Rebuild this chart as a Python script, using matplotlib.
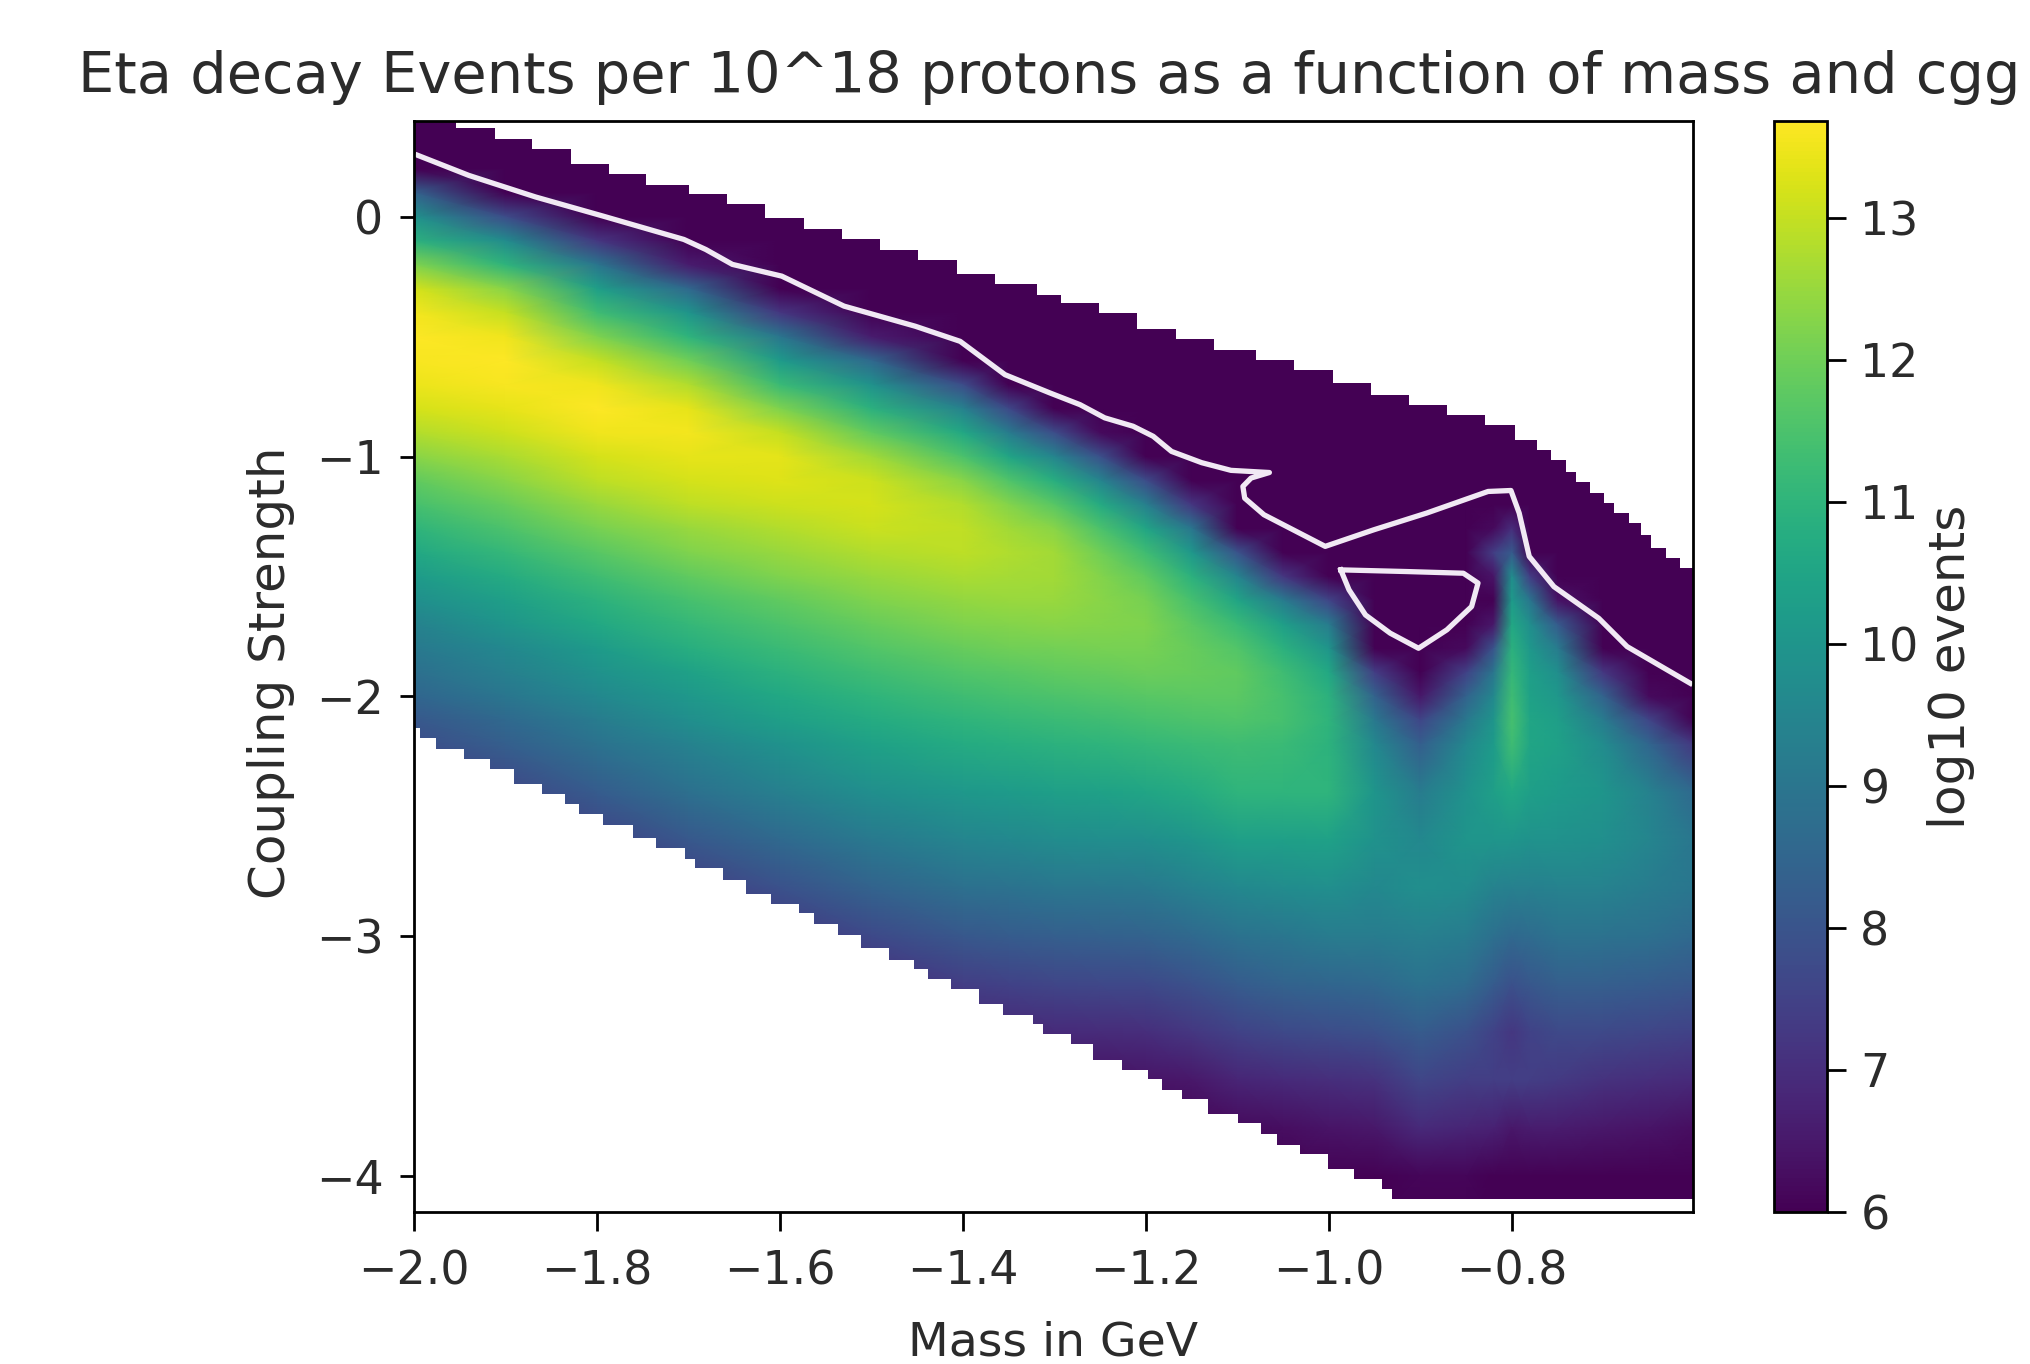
import numpy as np
import matplotlib
matplotlib.use("Agg")
import matplotlib.pyplot as plt
from matplotlib.patches import Polygon

# grid nodes (mass, coupling)
mass_nodes = [-2.0, -1.9, -1.8, -1.7, -1.6, -1.5, -1.4, -1.35, -1.3, -1.25, -1.2, -1.15, -1.1, -1.05, -1.0,
              -0.95, -0.9, -0.85, -0.82, -0.8, -0.78, -0.75, -0.7, -0.65, -0.6]
coupling_nodes = [0.4, 0.3, 0.2, 0.1, 0.0, -0.1, -0.2, -0.3, -0.4, -0.5, -0.6, -0.7, -0.8, -0.9,
                  -1.0, -1.1, -1.2, -1.3, -1.4, -1.5, -1.6, -1.7, -1.8, -1.9, -2.0, -2.1, -2.2,
                  -2.4, -2.6, -2.8, -3.0, -3.2, -3.4, -3.6, -3.8, -4.0, -4.2]

# log10 events, one list per mass node, top to bottom
log_events = [
    [6, 6, 6, 8.4, 9.9, 10.9, 12.2, 13.2, 13.55, 13.65, 13.6, 13.45, 13.2, 12.8,
     12.3, 11.8, 11.4, 11, 10.6, 10.2, 9.8, 9.4, 9.1, 8.8, 8.5, 8.1, 7.8,
     7.2, 6.6, 6, 6, 6, 6, 6, 6, 6, 6],
    [6, 6, 6, 6, 7.8, 9.7, 11, 12.3, 13, 13.5, 13.65, 13.6, 13.4, 13.1,
     12.7, 12.3, 11.9, 11.5, 11.1, 10.7, 10.3, 10, 9.6, 9.3, 9, 8.6, 8.3,
     7.6, 6.9, 6.3, 6, 6, 6, 6, 6, 6, 6],
    [6, 6, 6, 6, 6, 7.2, 9, 10.3, 11.3, 12.2, 13, 13.5, 13.65, 13.5,
     13.2, 12.9, 12.5, 12.1, 11.7, 11.3, 10.9, 10.6, 10.2, 9.9, 9.6, 9.2, 8.9,
     8.2, 7.5, 6.8, 6.2, 6, 6, 6, 6, 6, 6],
    [6, 6, 6, 6, 6, 6, 6.6, 8.6, 10, 11, 12, 12.8, 13.4, 13.55,
     13.4, 13.2, 12.9, 12.5, 12.2, 11.8, 11.4, 11.1, 10.8, 10.4, 10.1, 9.8, 9.4,
     8.8, 8.1, 7.4, 6.7, 6.1, 6, 6, 6, 6, 6],
    [6, 6, 6, 6, 6, 6, 6, 6, 7.2, 9, 10.2, 11.2, 12.2, 13,
     13.35, 13.3, 13.1, 12.8, 12.5, 12.2, 11.8, 11.5, 11.2, 10.9, 10.6, 10.3, 9.9,
     9.3, 8.6, 7.9, 7.2, 6.6, 6, 6, 6, 6, 6],
    [6, 6, 6, 6, 6, 6, 6, 6, 6, 6.6, 8.6, 9.9, 10.9, 11.8,
     12.6, 13.1, 13.2, 13.05, 12.8, 12.5, 12.2, 11.9, 11.6, 11.3, 11, 10.7, 10.4,
     9.8, 9.1, 8.4, 7.7, 7, 6.4, 6, 6, 6, 6],
    [6, 6, 6, 6, 6, 6, 6, 6, 6, 6, 6, 7.8, 9.4, 10.6,
     11.5, 12.3, 12.8, 12.95, 12.9, 12.7, 12.45, 12.2, 11.9, 11.6, 11.3, 11, 10.7,
     10.1, 9.5, 8.8, 8.1, 7.4, 6.8, 6.2, 6, 6, 6],
    [6, 6, 6, 6, 6, 6, 6, 6, 6, 6, 6, 6, 7.7, 9.2,
     10.5, 11.55, 12.25, 12.6, 12.75, 12.65, 12.5, 12.25, 12, 11.7, 11.4, 11.1, 10.8,
     10.2, 9.6, 8.9, 8.2, 7.5, 6.85, 6.25, 6, 6, 6],
    [6, 6, 6, 6, 6, 6, 6, 6, 6, 6, 6, 6, 6, 7.8,
     9.5, 10.8, 11.7, 12.3, 12.6, 12.6, 12.5, 12.3, 12.05, 11.8, 11.5, 11.2, 10.9,
     10.3, 9.7, 9, 8.3, 7.6, 6.9, 6.3, 6, 6, 6],
    [6, 6, 6, 6, 6, 6, 6, 6, 6, 6, 6, 6, 6, 6.2,
     7.9, 9.5, 10.7, 11.5, 12, 12.25, 12.3, 12.25, 12.1, 11.85, 11.6, 11.3, 11,
     10.4, 9.75, 9.05, 8.35, 7.65, 6.95, 6.35, 6, 6, 6],
    [6] * 14 + [6, 7.8, 9.3, 10.5, 11.3, 11.8, 12.1, 12.2, 12.1, 11.95, 11.7, 11.4, 11.1,
                10.5, 9.8, 9.1, 8.4, 7.7, 7, 6.4, 6, 6, 6],
    [6] * 14 + [6, 6, 7.2, 9, 10.1, 10.9, 11.4, 11.75, 11.9, 11.9, 11.75, 11.5, 11.2,
                10.7, 10, 9.35, 8.6, 7.9, 7.2, 6.5, 6.1, 6, 6],
    [6] * 14 + [6, 6, 6, 6, 8, 9.5, 10.5, 11.2, 11.6, 11.8, 11.75, 11.55, 11.3,
                11, 10.3, 9.6, 8.9, 8.2, 7.5, 6.8, 6.2, 6, 6],
    [6] * 14 + [6, 6, 6, 6, 6, 7.2, 9.2, 10.3, 10.9, 11.3, 11.4, 11.4, 11.2,
                11, 10.3, 9.7, 9, 8.4, 7.7, 6.9, 6.3, 6, 6],
    [6] * 14 + [6, 6, 6, 6, 6, 6, 7.6, 9.2, 10, 10.6, 10.9, 11, 10.95,
                11, 10.4, 9.8, 9.2, 8.5, 7.8, 7, 6.4, 6, 6],
    [6] * 14 + [6, 6, 6, 6, 6, 6, 6, 6, 6, 7.4, 8.4, 9.1, 9.6,
                10, 9.9, 9.6, 9.2, 8.6, 7.9, 7.1, 6.5, 6, 6],
    [6] * 14 + [6, 6, 6, 6, 6, 6, 6, 6, 6, 6, 6.5, 7.6, 8.3,
                9.2, 9.6, 9.8, 9.3, 8.9, 8.2, 7.6, 6.9, 6.1, 6],
    [6] * 14 + [6, 6, 6, 6, 6, 6, 6, 6, 6.2, 7.5, 8.4, 9.1, 9.6,
                9.9, 10, 9.7, 9.2, 8.7, 7.9, 7.4, 6.8, 6.1, 6],
    [6] * 14 + [6, 6, 6, 6.2, 7.4, 6.4, 6, 6.5, 8, 9, 9.6, 10, 10.2,
                10.3, 10, 9.4, 8.8, 8.2, 7.5, 7.4, 6.7, 6, 6],
    [6] * 14 + [6, 6, 6, 7, 8.2, 9.8, 10.2, 10.6, 10.9, 11.1, 11.3, 11.4, 11.3,
                10.6, 10, 9.3, 8.6, 7.9, 7.2, 7.4, 6.5, 6, 6],
    [6] * 14 + [6, 6, 6, 6, 6, 7.4, 9, 9.8, 10.1, 10.3, 10.4, 10.5, 10.5,
                10.3, 9.9, 9.3, 8.7, 8.1, 7.5, 7.4, 6.6, 6, 6],
    [6] * 14 + [6, 6, 6, 6, 6, 6, 6.4, 8.2, 9.2, 9.8, 10.1, 10.3, 10.4,
                10.2, 9.9, 9.4, 8.9, 8.3, 7.7, 7.3, 6.6, 6, 6],
    [6] * 14 + [6, 6, 6, 6, 6, 6, 6, 6, 6, 7.2, 8.4, 9.2, 9.7,
                10, 9.8, 9.4, 8.9, 8.3, 7.7, 7.1, 6.5, 6, 6],
    [6] * 14 + [6, 6, 6, 6, 6, 6, 6, 6, 6, 6, 6.2, 7.6, 8.5,
                9.4, 9.5, 9.2, 8.8, 8.2, 7.6, 7, 6.4, 6, 6],
    [6] * 14 + [6, 6, 6, 6, 6, 6, 6, 6, 6, 6, 6, 6, 7.2,
                8.6, 9, 9, 8.6, 8.1, 7.5, 6.9, 6.3, 6, 6],
]

# edge of the filled region: staircase, right end of each upper step
upper_x = [-1.954, -1.912, -1.871, -1.828, -1.787, -1.746, -1.699, -1.658, -1.616, -1.574, -1.532,
           -1.491, -1.449, -1.407, -1.365, -1.319, -1.293, -1.251, -1.210, -1.167, -1.126, -1.080,
           -1.038, -0.996, -0.954, -0.912, -0.871, -0.829, -0.797, -0.773, -0.757, -0.741, -0.730,
           -0.715, -0.699, -0.688, -0.672, -0.659, -0.648, -0.631, -0.616, -0.602]
upper_y = [0.404, 0.372, 0.326, 0.282, 0.219, 0.177, 0.132, 0.094, 0.052, -0.006, -0.052,
           -0.094, -0.139, -0.180, -0.236, -0.279, -0.324, -0.361, -0.399, -0.466, -0.511, -0.553,
           -0.595, -0.637, -0.692, -0.741, -0.783, -0.825, -0.866, -0.929, -0.971, -1.013, -1.063,
           -1.104, -1.150, -1.192, -1.234, -1.276, -1.326, -1.380, -1.422, -1.464]
# left end of each lower step
lower_x = [-2.0, -1.993, -1.976, -1.945, -1.917, -1.891, -1.860, -1.835, -1.820, -1.793, -1.761,
           -1.735, -1.704, -1.693, -1.662, -1.637, -1.610, -1.579, -1.563, -1.537, -1.511, -1.481,
           -1.453, -1.438, -1.413, -1.382, -1.356, -1.323, -1.313, -1.282, -1.258, -1.226, -1.198,
           -1.182, -1.160, -1.132, -1.099, -1.074, -1.057, -1.032, -1.001, -0.973, -0.942, -0.931]
lower_y = [-2.133, -2.175, -2.219, -2.262, -2.304, -2.363, -2.407, -2.449, -2.491, -2.534, -2.592,
           -2.634, -2.676, -2.717, -2.766, -2.822, -2.864, -2.905, -2.947, -2.996, -3.051, -3.097,
           -3.135, -3.180, -3.218, -3.284, -3.327, -3.367, -3.409, -3.451, -3.515, -3.557, -3.597,
           -3.640, -3.678, -3.741, -3.780, -3.824, -3.869, -3.910, -3.970, -4.012, -4.053, -4.095]

# white contour
contour_x = [-1.996, -1.94, -1.867, -1.793, -1.705, -1.681, -1.652, -1.598, -1.53, -1.452, -1.403,
             -1.354, -1.305, -1.272, -1.245, -1.214, -1.192, -1.172, -1.139, -1.107, -1.065, -1.085,
             -1.094, -1.092, -1.071, -1.004, -0.951, -0.893, -0.826, -0.801, -0.792, -0.781, -0.754,
             -0.705, -0.674, -0.605]
contour_y = [0.257, 0.173, 0.083, 0.003, -0.094, -0.136, -0.198, -0.247, -0.372, -0.456, -0.519,
             -0.658, -0.734, -0.783, -0.838, -0.873, -0.915, -0.978, -1.025, -1.057, -1.066, -1.089,
             -1.124, -1.173, -1.242, -1.374, -1.305, -1.235, -1.145, -1.141, -1.235, -1.416, -1.542,
             -1.674, -1.792, -1.945]
hole_x = [-0.987, -0.915, -0.853, -0.837, -0.844, -0.871, -0.902, -0.933, -0.960, -0.978, -0.987]
hole_y = [-1.472, -1.479, -1.486, -1.527, -1.625, -1.722, -1.799, -1.736, -1.660, -1.555, -1.472]

TEXT = "#2b2b2b"
W, H = 2030, 1364

plt.rcParams["font.family"] = "DejaVu Sans"
plt.rcParams["text.color"] = TEXT
plt.rcParams["axes.labelcolor"] = TEXT
plt.rcParams["xtick.labelcolor"] = TEXT
plt.rcParams["ytick.labelcolor"] = TEXT

fig = plt.figure(figsize=(W / 100, H / 100), dpi=100)
ax = fig.add_axes([414 / W, 1 - 1212 / H, (1693 - 414) / W, (1212 - 121) / H])
cax = fig.add_axes([1774 / W, 1 - 1212 / H, 53 / W, (1212 - 121) / H])

mesh = ax.pcolormesh(mass_nodes, coupling_nodes, np.array(log_events).T, shading="gouraud",
                     cmap="viridis", vmin=6, vmax=13.68)

# staircase outline of the filled region
verts = [(-2.0, upper_y[0])]
for i in range(len(upper_x)):
    verts.append((upper_x[i], upper_y[i]))
    if i + 1 < len(upper_x):
        verts.append((upper_x[i], upper_y[i + 1]))
lower_pts = []
for i in range(len(lower_x)):
    lower_pts.append((lower_x[i], lower_y[i]))
    if i + 1 < len(lower_x):
        lower_pts.append((lower_x[i + 1], lower_y[i]))
lower_pts.append((-0.602, lower_y[-1]))
verts += lower_pts[::-1]
mesh.set_clip_path(Polygon(verts, closed=True, transform=ax.transData))

ax.plot(contour_x, contour_y, color="#f1e9f4", lw=3.8, solid_joinstyle="round")
ax.plot(hole_x, hole_y, color="#f1e9f4", lw=3.8, solid_joinstyle="round")

ax.set_xlim(-2.0, -0.602)
ax.set_ylim(-4.15, 0.4)
ax.set_xticks([-2.0, -1.8, -1.6, -1.4, -1.2, -1.0, -0.8])
ax.set_yticks([0, -1, -2, -3, -4])
ax.tick_params(axis="x", labelsize=33, length=14, width=2, pad=13)
ax.tick_params(axis="y", labelsize=33, length=10, width=2, pad=12)
for s in ax.spines.values():
    s.set_linewidth(2)
ax.set_xlabel("Mass in GeV", fontsize=34, labelpad=19)
ax.set_ylabel("Coupling Strength", fontsize=36, labelpad=15, y=0.494)
ax.set_title("Eta decay Events per 10^18 protons as a function of mass and cgg", fontsize=41.4, pad=20, x=0.497)

cb = fig.colorbar(mesh, cax=cax)
cb.set_ticks([6, 7, 8, 9, 10, 11, 12, 13])
cb.ax.tick_params(labelsize=33, length=14, width=2, pad=10)
cb.outline.set_linewidth(2)
cb.set_label("log10 events", fontsize=36, labelpad=6)

fig.savefig("out.png", dpi=100)
